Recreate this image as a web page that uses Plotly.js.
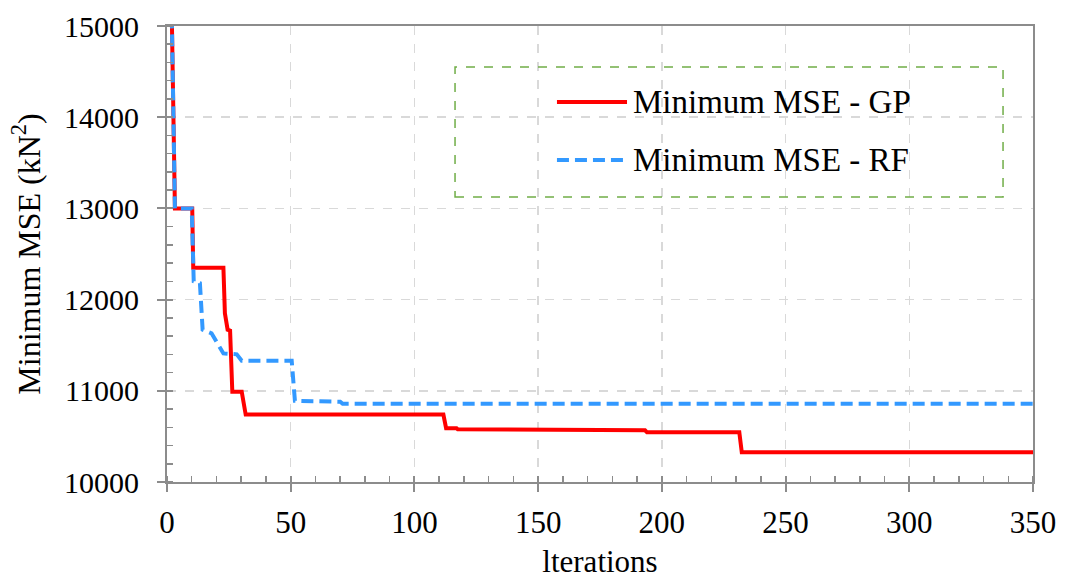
<!DOCTYPE html>
<html>
<head>
<meta charset="utf-8">
<script src="https://cdn.plot.ly/plotly-3.0.1.min.js"></script>
<style>html,body{margin:0;padding:0;background:#fff;}#chart{width:1073px;height:579px;}</style>
</head>
<body>
<div id="chart"></div>
<script>
// Data
var gpIter = [1.7, 3.2, 10.2, 10.6, 22.8, 23.4, 24.5, 25.5, 26.4, 30.2, 31.8, 111.7, 112.8, 117, 117.5, 137.3, 137.8, 193.2, 194, 231.3, 232.3, 350];
var gpMSE  = [15500, 13000, 13000, 12350, 12350, 11850, 11670, 11660, 10990, 10990, 10740, 10740, 10590, 10590, 10578, 10578, 10567, 10567, 10545, 10545, 10325, 10325];

var rfIter = [1.7, 3.2, 10.0, 10.8, 13.3, 14.4, 18.0, 22.8, 28.2, 30.2, 50.4, 51.7, 70, 71, 350];
var rfMSE  = [15500, 13000, 13000, 12200, 12180, 11670, 11630, 11410, 11400, 11330, 11330, 10890, 10880, 10858, 10858];

var seriesNames = ['Minimum MSE - GP', 'Minimum MSE - RF'];
var xTitle = 'lterations';
var yTitle = 'Minimum MSE (kN<sup>2</sup>)';
var xRange = [0, 350];
var yRange = [10000, 15000];

var FONT = 'Liberation Serif, DejaVu Serif, serif';
var AX = '#8c8c8c';

var traces = [
  {x: gpIter, y: gpMSE, mode: 'lines', name: seriesNames[0],
   line: {color: '#ff0000', width: 4}, showlegend: false},
  {x: rfIter, y: rfMSE, mode: 'lines', name: seriesNames[1],
   line: {color: '#3399ff', width: 4, dash: '12px,6px'}, showlegend: false},
  {x: [], y: [], xaxis: 'x2', yaxis: 'y2', mode: 'lines', showlegend: false, hoverinfo: 'skip'}
];

var layout = {
  width: 1073, height: 579,
  margin: {l: 167, r: 40, t: 26, b: 97},
  paper_bgcolor: '#fff', plot_bgcolor: '#fff',
  font: {family: FONT, color: '#000', size: 30},
  xaxis: {
    range: xRange, dtick: 50, tick0: 0, tickformat: 'd',
    showline: true, linecolor: AX, linewidth: 2, mirror: true,
    ticks: 'outside', ticklen: 8, tickcolor: AX, tickwidth: 2,
    minor: {dtick: 10, ticks: 'inside', ticklen: 6, tickcolor: AX, tickwidth: 1.5, showgrid: false},
    showgrid: true, gridcolor: '#d9d9d9', gridwidth: 1.5, griddash: 'dash',
    zeroline: false,
    tickfont: {family: FONT, size: 31, color: '#000'},
    ticklabelstandoff: 4,
    title: {text: xTitle, font: {family: FONT, size: 31, color: '#000'}, standoff: 12}
  },
  yaxis: {
    range: yRange, dtick: 1000, tick0: 10000, tickformat: 'd', exponentformat: 'none',
    showline: true, linecolor: AX, linewidth: 2, mirror: true,
    ticks: 'outside', ticklen: 8, tickcolor: AX, tickwidth: 2,
    minor: {dtick: 200, ticks: 'inside', ticklen: 6, tickcolor: AX, tickwidth: 1.5, showgrid: false},
    showgrid: true, gridcolor: '#d9d9d9', gridwidth: 1.5, griddash: 'dash',
    zeroline: false,
    tickfont: {family: FONT, size: 30, color: '#000'},
    ticklabelstandoff: 12,
    title: {text: yTitle, font: {family: FONT, size: 32, color: '#000'}, standoff: 14}
  },
  // inner halves of the crossing major ticks
  xaxis2: {
    overlaying: 'x', anchor: 'y2', side: 'bottom', range: xRange, dtick: 50, tick0: 0,
    ticks: 'inside', ticklen: 6, tickcolor: AX, tickwidth: 2,
    showticklabels: false, showgrid: false, showline: false, zeroline: false
  },
  yaxis2: {
    overlaying: 'y', anchor: 'x2', side: 'left', range: yRange, dtick: 1000, tick0: 10000,
    ticks: 'inside', ticklen: 6, tickcolor: AX, tickwidth: 2,
    showticklabels: false, showgrid: false, showline: false, zeroline: false
  },
  shapes: [
    {type: 'rect', xref: 'paper', yref: 'paper', x0: 0.3326, x1: 0.9654, y0: 0.625, y1: 0.910,
     line: {color: '#70ad47', width: 1.5, dash: 'dash'}, fillcolor: 'rgba(0,0,0,0)', layer: 'above'},
    {type: 'line', xref: 'paper', yref: 'paper', x0: 0.4503, x1: 0.5312, y0: 0.8333, y1: 0.8333,
     line: {color: '#ff0000', width: 4}},
    {type: 'line', xref: 'paper', yref: 'paper', x0: 0.4503, x1: 0.5312, y0: 0.7061, y1: 0.7061,
     line: {color: '#3399ff', width: 4, dash: '12px,6px'}}
  ],
  annotations: [
    {xref: 'paper', yref: 'paper', x: 0.536, y: 0.8333, xanchor: 'left', yanchor: 'middle',
     text: seriesNames[0], showarrow: false, font: {family: FONT, size: 33, color: '#000'}},
    {xref: 'paper', yref: 'paper', x: 0.536, y: 0.7061, xanchor: 'left', yanchor: 'middle',
     text: seriesNames[1], showarrow: false, font: {family: FONT, size: 33, color: '#000'}}
  ]
};

Plotly.newPlot('chart', traces, layout, {displayModeBar: false, staticPlot: true});
</script>
</body>
</html>
